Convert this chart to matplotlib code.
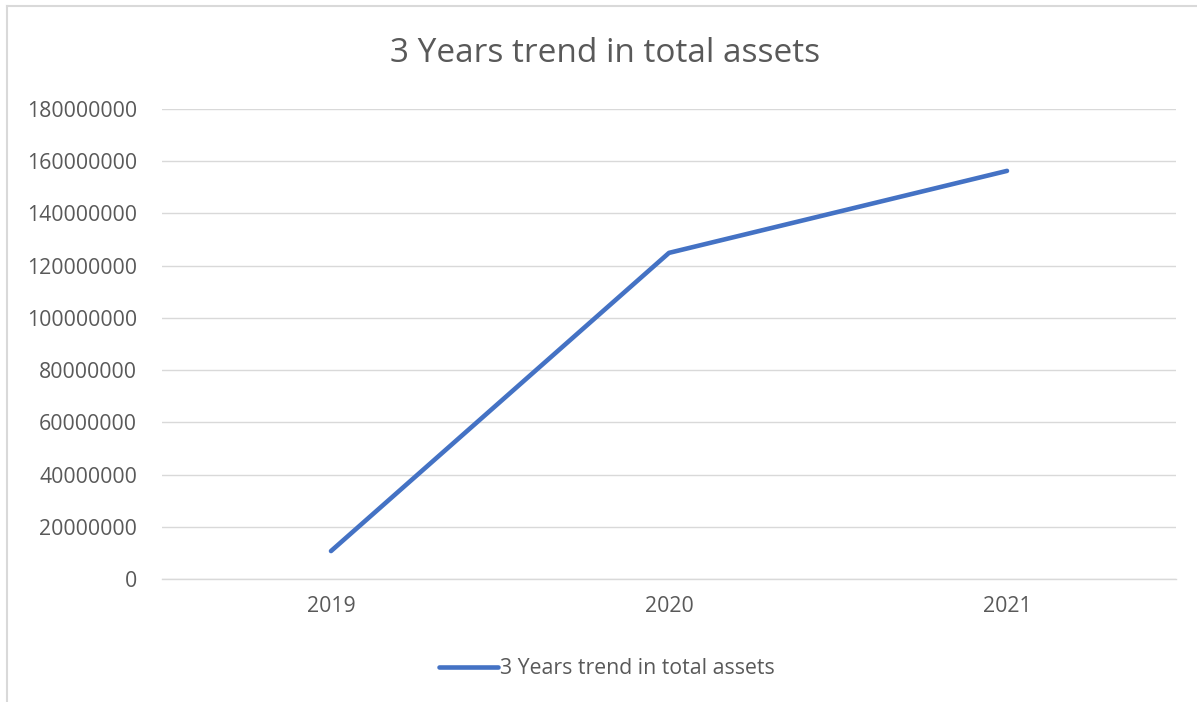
import matplotlib
matplotlib.use('Agg')
import matplotlib.pyplot as plt
from matplotlib.lines import Line2D

years = ['2019', '2020', '2021']
total_assets = [10700000, 124900000, 156300000]
series_name = '3 Years trend in total assets'

plt.rcParams['font.family'] = ['Open Sans', 'DejaVu Sans']

fig = plt.figure(figsize=(11.97, 7.02), dpi=100)
ax = fig.add_axes([162/1197, 1 - 579/702, (1176 - 162)/1197, (579 - 109)/702])

x = range(len(years))
ax.plot(list(x), total_assets, color='#4472C4', linewidth=3.3,
        solid_capstyle='round', solid_joinstyle='round', zorder=3)

ax.set_xlim(-0.5, len(years) - 0.5)
ax.set_ylim(0, 180000000)
ax.set_yticks(range(0, 180000001, 20000000))
ax.set_yticklabels([str(v) for v in range(0, 180000001, 20000000)])
ax.set_xticks(list(x))
ax.set_xticklabels(years)

ax.grid(axis='y', color='#d9d9d9', linewidth=1)
ax.set_axisbelow(True)
for s in ['top', 'right', 'left']:
    ax.spines[s].set_visible(False)
ax.spines['bottom'].set_color('#d9d9d9')
ax.spines['bottom'].set_linewidth(1)
ax.tick_params(axis='both', length=0, colors='#595959', labelsize=15.3)
ax.tick_params(axis='y', pad=18)
ax.tick_params(axis='x', pad=12)

fig.text(605/1197, 1 - 54/702, series_name, ha='center', va='center',
         fontsize=24, color='#595959')

# legend drawn by hand
leg_handle = Line2D([0], [0], color='#4472C4', linewidth=3.3, solid_capstyle='round')
fig.legend([leg_handle], [series_name], loc='center', bbox_to_anchor=(607/1197, 1 - 669/702),
           frameon=False, fontsize=15.3, labelcolor='#595959', handlelength=2.8,
           handletextpad=0.1)

# chart frame border (top and left)
fig.add_artist(Line2D([7/1197, 1], [1 - 6/702, 1 - 6/702], transform=fig.transFigure,
                      color='#d9d9d9', linewidth=1.5))
fig.add_artist(Line2D([7/1197, 7/1197], [1 - 6/702, 0], transform=fig.transFigure,
                      color='#d9d9d9', linewidth=1.5))

fig.savefig('out.png', dpi=100)
